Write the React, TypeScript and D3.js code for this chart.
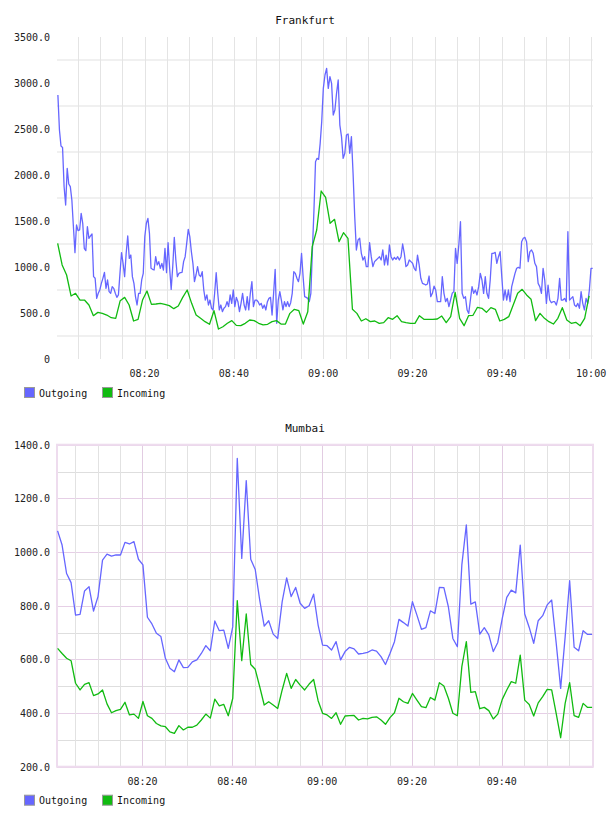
import React, { useEffect, useRef } from 'react';
import * as d3 from 'd3';

// Outgoing traffic, Frankfurt: two collection runs with slightly different intervals
const frankfurtOutgoingA = [
  2870, 2489, 2315, 2300, 1873, 1674, 2072, 1902, 1873, 1728,
  1438, 1156, 1457, 1395, 1402, 1583, 1475, 1203, 1178, 1438,
  1312, 1337, 1359, 895, 877, 659, 714, 750, 822, 877,
  942, 768, 859, 732, 714, 786, 768, 714, 670, 696,
  931, 1156, 1040, 895, 1149, 1337, 1094, 1130, 895, 822,
  678, 587, 714, 714, 859, 931, 1330, 1475, 1529, 1366,
  986, 975, 967, 1112, 1022, 1058, 986, 1040, 967, 1203,
  938, 1264, 986, 757, 1004, 1322, 1076, 895, 931, 938,
  942, 1058, 1112, 1257, 1409, 1330, 1167, 1040, 841, 913,
  1004, 913, 895, 949, 750, 641, 696, 587, 641, 551,
  533, 714, 938, 714, 533, 587, 514, 551, 569, 623,
  569, 696, 605, 750, 569, 670, 623, 514, 605, 714,
  587, 533, 678, 533, 714, 841, 569, 641, 641, 623,
  587, 605, 551, 587, 533, 623, 659, 670, 478, 714,
  975, 388, 641, 732, 641, 533, 623, 569, 623, 569,
  612, 714, 949, 931, 877, 841, 931, 1149, 895, 678,
  670, 659, 623, 714, 1185, 1620, 2145, 2181, 2170, 2344,
  2580,
];
const frankfurtOutgoingB = [
  2942, 3087, 3159, 2942, 3069, 2996, 2652, 2707, 2888, 3033,
  2543, 2417, 2181, 2236, 2435, 2446, 2236, 2417, 2018, 1547,
  1185, 1293, 1312, 1149, 1076, 1112, 1004, 1004, 1264, 1112,
  1004, 1058, 1076, 1094, 1112, 1076, 1185, 1022, 1130, 1022,
  1239, 1112, 1076, 1105, 1083, 1112, 1076, 1112, 1250, 1149,
  1004, 1022, 1076, 1058, 1040, 986, 960, 1130, 1022, 877,
  822, 815, 804, 815, 902, 678, 714, 793, 750, 623,
  623, 623, 895, 714, 623, 659, 569, 641, 714, 732,
  1203, 1040, 1239, 1493, 714, 659, 678, 533, 496, 641,
  786, 714, 750, 696, 786, 931, 859, 714, 895, 714,
  659, 859, 1149, 1149, 1159, 1040, 1112, 1167, 895, 641,
  750, 641, 750, 623, 786, 859, 931, 986, 996, 986,
  1275, 1312, 1322, 1275, 1058, 1167, 1185, 1149, 1040, 1004,
  822, 786, 714, 986, 859, 605, 804, 641, 612, 623,
  623, 587, 659, 877, 641, 641, 659, 623, 1384, 641,
  659, 678, 587, 569, 605, 551, 732, 605, 533, 659,
  605, 750, 986, 986,
];
// Incoming traffic, Frankfurt, one sample per minute
const frankfurtIncoming = [
  1257, 1022, 913, 685, 714, 641, 641, 587, 471, 507,
  496, 478, 449, 442, 634, 670, 587, 413, 431, 641,
  739, 594, 598, 605, 594, 580, 547, 576, 670, 750,
  605, 478, 442, 406, 377, 525, 326, 351, 388, 417,
  366, 362, 388, 424, 417, 388, 370, 377, 406, 417,
  380, 380, 496, 540, 525, 380, 514, 1221, 1402, 1826,
  1757, 1475, 1518, 1275, 1373, 1312, 540, 496, 413, 438,
  406, 413, 388, 395, 449, 431, 471, 406, 395, 388,
  388, 471, 431, 431, 431, 435, 467, 395, 460, 725,
  442, 362, 471, 475, 562, 551, 507, 558, 540, 413,
  431, 460, 587, 714, 757, 696, 649, 417, 496, 442,
  406, 380, 442, 558, 424, 388, 399, 362, 442, 685,
];
// Mumbai, one sample per minute
const mumbaiOutgoing = [
  1079, 1026, 920, 886, 765, 768, 855, 871, 780, 834,
  970, 992, 985, 989, 989, 1036, 1030, 1039, 973, 952,
  757, 732, 697, 685, 604, 567, 554, 598, 569, 570,
  591, 598, 622, 651, 632, 743, 707, 709, 641, 722,
  1349, 976, 1266, 973, 935, 821, 724, 744, 694, 678,
  815, 904, 834, 868, 809, 790, 800, 843, 728, 653,
  651, 635, 666, 598, 629, 645, 639, 620, 622, 626,
  635, 631, 610, 581, 622, 666, 749, 737, 724, 815,
  765, 712, 718, 781, 771, 868, 867, 796, 678, 647,
  952, 1101, 806, 814, 694, 718, 691, 629, 663, 753,
  831, 858, 848, 1026, 769, 719, 660, 744, 763, 803,
  821, 662, 492, 684, 893, 645, 632, 707, 693, 693,
];
const mumbaiIncoming = [
  641, 622, 604, 595, 511, 486, 507, 513, 465, 471,
  486, 434, 401, 409, 414, 440, 393, 396, 380, 443,
  390, 380, 361, 352, 349, 330, 324, 353, 337, 347,
  347, 355, 374, 396, 381, 452, 427, 432, 390, 455,
  819, 595, 769, 581, 563, 498, 430, 442, 430, 417,
  486, 548, 492, 525, 504, 486, 508, 525, 446, 399,
  393, 380, 401, 358, 389, 390, 391, 374, 380, 378,
  384, 386, 374, 358, 383, 401, 455, 442, 436, 473,
  448, 424, 420, 458, 448, 513, 501, 455, 399, 390,
  573, 666, 477, 480, 416, 421, 409, 378, 396, 451,
  486, 517, 511, 616, 448, 432, 389, 438, 461, 488,
  486, 399, 308, 436, 513, 390, 384, 436, 421, 421,
];

const seriesNames = ['Outgoing', 'Incoming'];
const seriesColors = ['#6666ff', '#11bb11'];

const frankfurtYTicks = [0, 500, 1000, 1500, 2000, 2500, 3000, 3500];
const mumbaiYTicks = [200, 400, 600, 800, 1000, 1200, 1400];
const frankfurtTimeLabels = ['08:20', '08:40', '09:00', '09:20', '09:40', '10:00'];
const mumbaiTimeLabels = ['08:20', '08:40', '09:00', '09:20', '09:40'];

const day = '2013-05-14';
const at = (hms: string) => new Date(`${day}T${hms}`);

type Pt = [Date, number];
// spread a run of samples at a fixed interval (seconds) from a start time
function samples(values: number[], start: string, stepSec: number): Pt[] {
  const t0 = at(start).getTime();
  return values.map((v, i) => [new Date(t0 + i * stepSec * 1000), v] as Pt);
}

interface ChartSpec {
  title: string;
  top: number;
  domain: [Date, Date];
  yDomain: [number, number];
  yTicks: number[];
  timeLabels: string[];
  framed: boolean;
  series: Pt[][];
}

const FONT = '"DejaVu Sans Mono", monospace';

function drawChart(svg: d3.Selection<SVGSVGElement, unknown, null, undefined>, spec: ChartSpec) {
  const left = 57, right = 593, plotH = 322;
  const top = spec.top, bottom = top + plotH;
  const g = svg.append('g');

  const x = d3.scaleTime().domain(spec.domain).range([left, right]);
  const y = d3.scaleLinear().domain(spec.yDomain).range([bottom, top]);
  const fiveMin = d3.timeMinute.every(5)!.range(spec.domain[0], spec.domain[1]);

  if (spec.framed) {
    // grey 5-minute / 100-unit grid, lilac lines on labelled ticks
    const hVals = d3.range(spec.yDomain[0], spec.yDomain[1] + 1, 100);
    g.selectAll('line.hg').data(hVals).enter().append('line')
      .attr('x1', left).attr('x2', right).attr('y1', d => Math.round(y(d)) + 0.5).attr('y2', d => Math.round(y(d)) + 0.5)
      .attr('stroke', d => (d % 200 === 0 ? '#e6cfe6' : '#dedede')).attr('stroke-width', 1);
    g.selectAll('line.vg').data(fiveMin).enter().append('line')
      .attr('y1', top).attr('y2', bottom).attr('x1', d => Math.round(x(d)) + 0.5).attr('x2', d => Math.round(x(d)) + 0.5)
      .attr('stroke', d => (d.getMinutes() % 20 === 0 ? '#e2cce2' : '#e2e2e2')).attr('stroke-width', 1);
    g.append('rect').attr('x', left).attr('y', top).attr('width', right - left).attr('height', plotH)
      .attr('fill', 'none').attr('stroke', '#eedcee').attr('stroke-width', 2);
  } else {
    // horizontal bands sit halfway between labelled ticks
    const hVals = spec.yTicks.slice(0, -1).map(v => v + 250);
    g.selectAll('line.hg').data(hVals).enter().append('line')
      .attr('x1', left).attr('x2', right).attr('y1', d => y(d)).attr('y2', d => y(d))
      .attr('stroke', '#f0f0f0').attr('stroke-width', 2);
    g.selectAll('line.vg').data(fiveMin).enter().append('line')
      .attr('y1', top).attr('y2', bottom).attr('x1', d => Math.round(x(d)) + 0.5).attr('x2', d => Math.round(x(d)) + 0.5)
      .attr('stroke', '#e4e4e4').attr('stroke-width', 1);
  }

  const line = d3.line<Pt>().x(d => x(d[0])).y(d => y(d[1]));
  spec.series.forEach((pts, i) => {
    g.append('path').datum(pts).attr('fill', 'none').attr('stroke', seriesColors[i])
      .attr('stroke-width', 1.3).attr('stroke-linejoin', 'round').attr('d', line);
  });

  g.selectAll('text.yl').data(spec.yTicks).enter().append('text')
    .attr('x', 50).attr('y', d => y(d) + 4).attr('text-anchor', 'end')
    .attr('font-family', FONT).attr('font-size', 10).attr('fill', '#222')
    .text(d => (d === 0 ? '0' : d3.format('.1f')(d)));

  g.selectAll('text.xl').data(spec.timeLabels).enter().append('text')
    .attr('x', d => x(at(`${d}:00`))).attr('y', bottom + 18).attr('text-anchor', 'middle')
    .attr('font-family', FONT).attr('font-size', 10).attr('fill', '#222').text(d => d);

  g.append('text').attr('x', 305).attr('y', top - 13).attr('text-anchor', 'middle')
    .attr('font-family', FONT).attr('font-size', 11).attr('fill', '#111').text(spec.title);

  const legend = g.append('g').attr('transform', `translate(0,${bottom + 28})`);
  seriesNames.forEach((name, i) => {
    const lx = i === 0 ? 24 : 102;
    legend.append('rect').attr('x', lx + 0.5).attr('y', 0.5).attr('width', 10).attr('height', 10)
      .attr('fill', seriesColors[i]).attr('stroke', '#999');
    legend.append('text').attr('x', lx + 15).attr('y', 9.5)
      .attr('font-family', FONT).attr('font-size', 10).attr('fill', '#111').text(name);
  });
}

export default function App() {
  const ref = useRef<SVGSVGElement>(null);

  useEffect(() => {
    if (!ref.current) return;
    const svg = d3.select(ref.current);
    svg.selectAll('*').remove();

    drawChart(svg, {
      title: 'Frankfurt',
      top: 37,
      domain: [at('08:00:24'), at('10:00:25')],
      yDomain: [0, 3500],
      yTicks: frankfurtYTicks,
      timeLabels: frankfurtTimeLabels,
      framed: false,
      series: [
        [...samples(frankfurtOutgoingA, '08:00:36', 20.85), ...samples(frankfurtOutgoingB, '09:00:02', 22.2)],
        samples(frankfurtIncoming, '08:00:33', 60),
      ],
    });

    drawChart(svg, {
      title: 'Mumbai',
      top: 444.7,
      domain: [at('08:00:58'), at('10:00:18')],
      yDomain: [200, 1400],
      yTicks: mumbaiYTicks,
      timeLabels: mumbaiTimeLabels,
      framed: true,
      series: [
        samples(mumbaiOutgoing, '08:01:06', 60),
        samples(mumbaiIncoming, '08:01:06', 60),
      ],
    });
  }, []);

  return (
    <svg ref={ref} width={608} height={816}
      style={{ position: 'absolute', left: 0, top: 0, background: '#fff' }} />
  );
}
